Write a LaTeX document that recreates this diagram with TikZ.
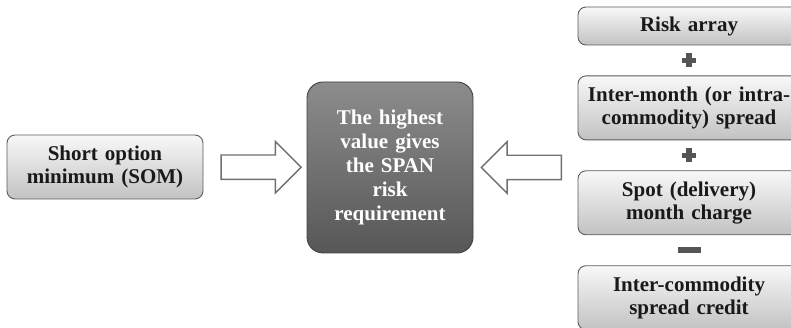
\documentclass[tikz,border=0pt]{standalone}
\usepackage{fontspec}
\setmainfont{Liberation Serif}
\usetikzlibrary{shapes.arrows, positioning, calc}
\definecolor{boxline}{HTML}{5C5C5C}
\definecolor{boxtop}{HTML}{F8F8F8}
\definecolor{boxbottom}{HTML}{C2C2C2}
\definecolor{spantop}{HTML}{8C8C8C}
\definecolor{spanbottom}{HTML}{575757}
\definecolor{arrowline}{HTML}{707070}
\definecolor{signgray}{HTML}{555555}
\tikzstyle{term} = [rectangle, rounded corners=8pt, minimum width=222pt, minimum height=64pt, text width=214pt, align=center, draw=boxline, line width=0.9pt, top color=boxtop, bottom color=boxbottom, text=black!90, font=\fontsize{21}{23.5}\selectfont\bfseries, inner sep=0pt]
\tikzstyle{result} = [rectangle, rounded corners=16pt, minimum width=166pt, minimum height=171pt, text width=160pt, align=center, draw=black!75, line width=0.9pt, top color=spantop, bottom color=spanbottom, text=white, font=\fontsize{21}{24}\selectfont\bfseries, inner sep=0pt]
\tikzstyle{bigarrow} = [single arrow, draw=arrowline, line width=1.4pt, fill=white, minimum height=80pt, minimum width=50pt, single arrow head extend=13.5pt, inner xsep=0pt, inner ysep=11.5pt]
\newcommand{\plussign}[1]{\fill[signgray] ($(#1)+(-7,-2.6)$) rectangle ($(#1)+(7,2.6)$); \fill[signgray] ($(#1)+(-2.6,-7)$) rectangle ($(#1)+(2.6,7)$);}
\newcommand{\minussign}[1]{\fill[signgray] ($(#1)+(-11.5,-3)$) rectangle ($(#1)+(11.5,3)$);}

\begin{document}
\begin{tikzpicture}[x=1pt, y=-1pt]
\clip (0,0) rectangle (791,328);

% Blocchi
\node (som) [term, minimum width=196pt, text width=190pt] at (105,167) {Short option\\minimum (SOM)};
\node (span) [result] at (390,167.5) {The highest\\value gives\\the SPAN\\risk\\requirement};
\node (risk) [term, minimum height=38pt] at (689,26) {Risk array};
\node (intermonth) [term, below=30pt of risk] {Inter-month (or intra-\\commodity) spread};
\node (spot) [term, below=30pt of intermonth] {Spot (delivery)\\month charge};
\node (intercomm) [term, below=30pt of spot] {Inter-commodity\\spread credit};

% Frecce
\node (toright) [bigarrow] at ($(som.east)!0.5!(span.west)$) {};
\node (toleft) [bigarrow, shape border rotate=180, xshift=2pt] at ($(span.east)!0.5!(risk.west |- span)$) {};

% Segni
\coordinate (plusA) at ($(risk.south)!0.5!(intermonth.north)$);
\coordinate (plusB) at ($(intermonth.south)!0.5!(spot.north)$);
\coordinate (minusA) at ($(spot.south)!0.5!(intercomm.north)$);
\plussign{plusA}
\plussign{plusB}
\minussign{minusA}

\end{tikzpicture}
\end{document}
